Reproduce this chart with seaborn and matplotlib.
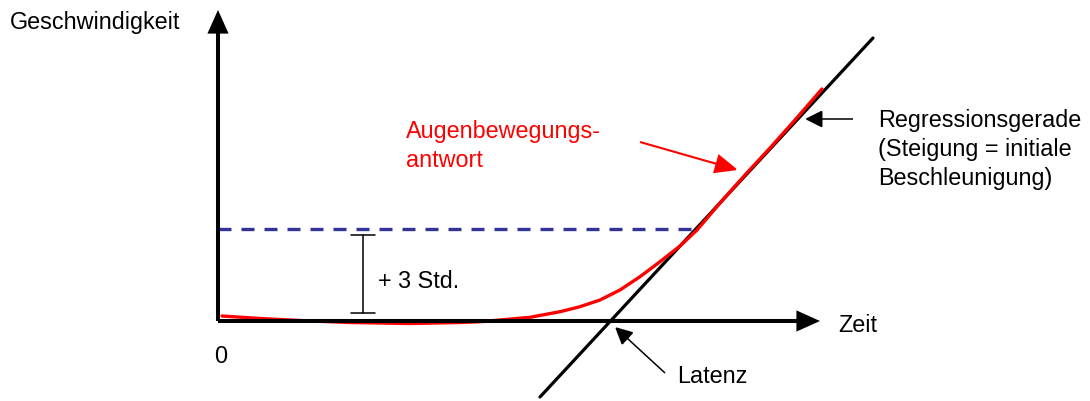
import numpy as np
import pandas as pd
import matplotlib
matplotlib.use("Agg")
import matplotlib.pyplot as plt
import seaborn as sns
from matplotlib.patches import FancyArrowPatch

# ---- data (schematic units: time t, velocity v) ----
curve_t = [4, 42, 82, 132, 192, 242, 262, 282, 312, 342, 362, 382, 402, 422,
           442, 462, 479, 502, 527, 552, 577, 604]
curve_v = [5, 2.5, 0.5, -1.5, -2.5, -1.5, -0.7, 1, 3.7, 9.3, 14.3, 21, 31, 44.3,
           59.3, 75, 91, 118, 146, 173, 201, 232]

reg_t = [322, 655]
reg_v = [-76, 283]

thr_t = [0, 479]
thr_v = [92, 92]

std_t = 145
std_lo, std_hi = 8, 86

xaxis_end = 602
yaxis_end = 311

label_y = "Geschwindigkeit"
label_x = "Zeit"
label_zero = "0"
label_std = "+ 3 Std."
label_resp = ["Augenbewegungs-", "antwort"]
label_lat = "Latenz"
label_reg = ["Regressionsgerade", "(Steigung = initiale", "Beschleunigung)"]

sns.set_style("white")
plt.rcParams["font.family"] = ["Liberation Sans", "DejaVu Sans"]
plt.rcParams["text.color"] = "black"

fig = plt.figure(figsize=(10.90, 4.01), dpi=100)
ax = fig.add_axes([0, 0, 1, 1])
ax.set_xlim(-218, 872)
ax.set_ylim(-80, 321)
ax.axis("off")

FS = 16.8

# threshold dashed line
sns.lineplot(x=thr_t, y=thr_v, ax=ax, color="#333399", lw=2.4,
             estimator=None, sort=False, zorder=2)
ax.lines[-1].set_dashes([3.9, 3.0])

# regression line
sns.lineplot(x=reg_t, y=reg_v, ax=ax, color="black", lw=2.3,
             estimator=None, sort=False, zorder=3)

# response curve
sns.lineplot(x=curve_t, y=curve_v, ax=ax, color="#ff0000", lw=2.4,
             estimator=None, sort=False, zorder=4)
ax.lines[-1].set_solid_joinstyle("round")

def arrow(p0, p1, lw, color="black", hl=0.6, hw=0.27, ms=20, z=5):
    a = FancyArrowPatch(p0, p1, arrowstyle=f"-|>,head_length={hl},head_width={hw}",
                        mutation_scale=ms, lw=lw, color=color, zorder=z,
                        shrinkA=0, shrinkB=0, joinstyle="miter", capstyle="butt")
    ax.add_patch(a)

# axes arrows
arrow((0, 0), (xaxis_end, 0), 2.9)
arrow((0, 0), (0, yaxis_end), 2.9)

# std bracket
ax.plot([std_t, std_t], [std_lo, std_hi], color="black", lw=1.1, zorder=3)
ax.plot([std_t - 12, std_t + 12], [std_lo, std_lo], color="black", lw=1.1, zorder=3)
ax.plot([std_t - 12, std_t + 12], [std_hi, std_hi], color="black", lw=1.1, zorder=3)

# annotation arrows
arrow((447, -52), (397, -6), 1.1, hl=0.6, hw=0.3, ms=18)
arrow((635, 202), (587, 202), 1.1, hl=0.6, hw=0.3, ms=18)
arrow((422, 179), (520, 151), 1.5, color="#ff0000", hl=0.7, hw=0.3, ms=20)

# texts
ax.text(-208, 292, label_y, fontsize=FS, va="baseline", ha="left")
ax.text(620, -11, label_x, fontsize=FS, va="baseline", ha="left")
ax.text(-4, -42, label_zero, fontsize=FS, va="baseline", ha="left")
ax.text(160, 33, label_std, fontsize=FS, va="baseline", ha="left")
ax.text(188, 183, label_resp[0], fontsize=FS, va="baseline", ha="left", color="#ff0000")
ax.text(188, 154, label_resp[1], fontsize=FS, va="baseline", ha="left", color="#ff0000")
ax.text(459, -62, label_lat, fontsize=FS, va="baseline", ha="left")
for i, s in enumerate(label_reg):
    ax.text(660, 194 - 29 * i, s, fontsize=FS, va="baseline", ha="left")

fig.savefig("out.png", dpi=100)
